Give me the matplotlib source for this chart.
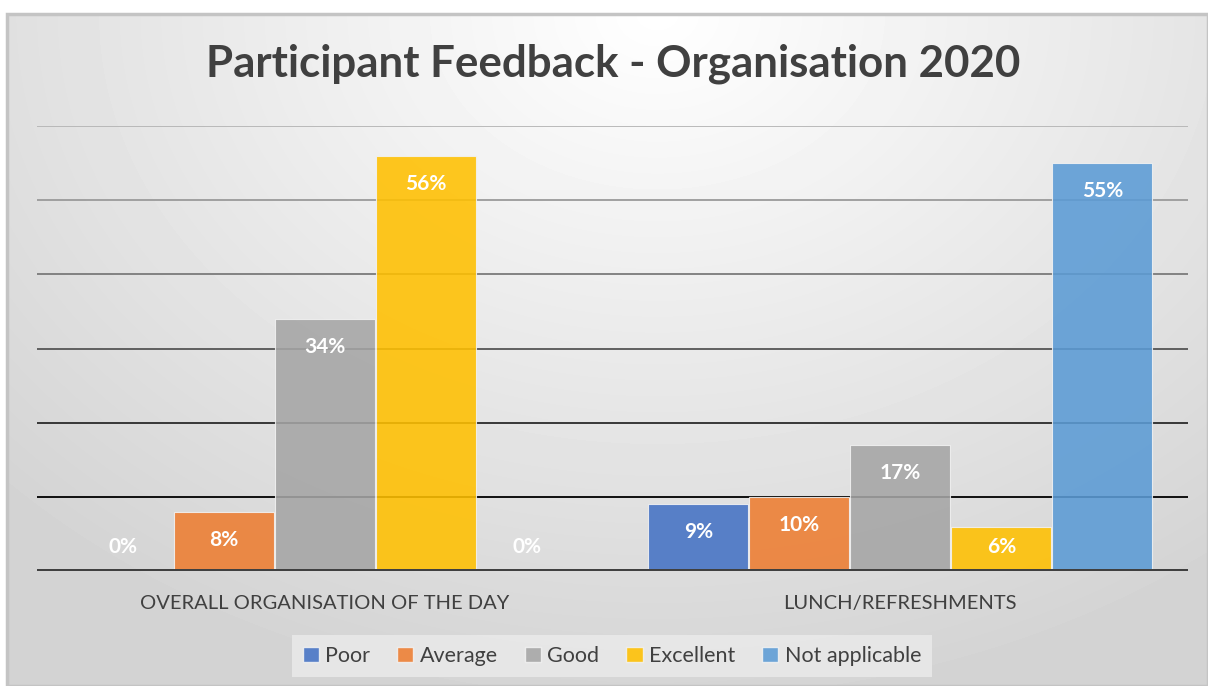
import numpy as np
import matplotlib.pyplot as plt
from matplotlib.patches import Patch, Rectangle

# data
categories = ["OVERALL ORGANISATION OF THE DAY", "LUNCH/REFRESHMENTS"]
series = ["Poor", "Average", "Good", "Excellent", "Not applicable"]
poor = [0, 9]
average = [8, 10]
good = [34, 17]
excellent = [56, 6]
not_applicable = [0, 55]
values = [poor, average, good, excellent, not_applicable]
colors = ["#4472C4", "#ED7D31", "#A5A5A5", "#FFC000", "#5B9BD5"]
grid_vals = [10, 20, 30, 40, 50, 60]
grid_cols = ["#000000", "#2a2a2a", "#555555", "#7a7a7a", "#9a9a9a", "#b5b5b5"]

W, H = 1208, 686
fig = plt.figure(figsize=(W / 100, H / 100), dpi=100)
fig.patch.set_facecolor("white")

# background panel with soft radial gradient
bg = fig.add_axes([7 / W, 0, 1 - 7 / W, (H - 14) / H])
bg.set_axis_off()
yy, xx = np.mgrid[0:672, 0:1201]
dist = np.sqrt((xx - 650) ** 2 + (yy * 1.3) ** 2) / 900
shade = 1 - 0.17 * np.clip(dist, 0, 1)
bg.imshow(shade, cmap="gray", vmin=0, vmax=1, aspect="auto", extent=[0, 1, 0, 1], origin="upper")
bg.add_patch(Rectangle((0, 0), 1, 1, transform=bg.transAxes, fill=False,
                       edgecolor="#c4c4c4", linewidth=2.5, clip_on=False))

ax = fig.add_axes([37 / W, (H - 571) / H, (1188 - 37) / W, (571 - 126) / H])
ax.set_facecolor("none")

x = np.arange(len(categories))
bw = 0.1755
for i, (name, vals, c) in enumerate(zip(series, values, colors)):
    pos = x + (i - 2) * bw
    ax.bar(pos, vals, width=bw * 0.99, color=c, alpha=0.88, edgecolor="#f2f2f2",
           linewidth=0.8, zorder=3, label=name)
    for p, v in zip(pos, vals):
        ly = max(v - 3.8, 3.2)
        ax.text(p, ly, f"{v}%", ha="center", va="center", color="white",
                fontsize=15, fontweight="bold", family="Lato", zorder=4)

for g, gc in zip(grid_vals, grid_cols):
    ax.axhline(g, color=gc, linewidth=1.3, zorder=1)
ax.axhline(0, color="#404040", linewidth=3.6, zorder=5)

ax.set_xlim(-0.5, 1.5)
ax.set_ylim(0, 60)
ax.set_yticks([])
ax.set_xticks(x)
ax.set_xticklabels(categories, fontsize=14.5, color="#404040", family="Lato")
ax.tick_params(axis="x", length=0, pad=17)
for s in ax.spines.values():
    s.set_visible(False)

fig.text(613 / W, 1 - 64 / H, "Participant Feedback - Organisation 2020", ha="center",
         va="center", fontsize=31.6, fontweight="bold", color="#404040", family="Lato")

handles = [Patch(facecolor=c, edgecolor="#f2f2f2", alpha=0.88) for c in colors]
leg = fig.legend(handles, series, loc="center", bbox_to_anchor=(612 / W, 1 - 656 / H),
                 ncol=5, frameon=True, handlelength=0.75, handleheight=0.75,
                 handletextpad=0.3, columnspacing=1.25, borderpad=0.5, fancybox=False,
                 prop={"family": "Lato", "size": 15.5})
leg.get_frame().set_facecolor("#ebebeb")
leg.get_frame().set_edgecolor("none")
for t in leg.get_texts():
    t.set_color("#404040")

plt.savefig("out.png", dpi=100)
